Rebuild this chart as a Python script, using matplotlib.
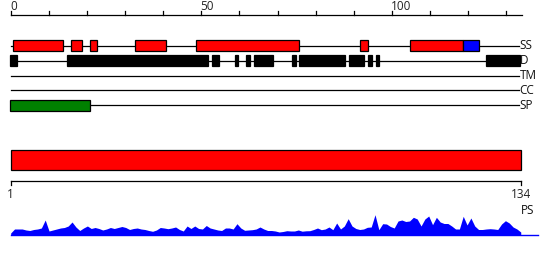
import numpy as np
import matplotlib
matplotlib.use("Agg")
import matplotlib.pyplot as plt

plt.rcParams['font.family'] = ['Open Sans', 'DejaVu Sans']

# sequence length and feature tracks (residue ranges)
seq_len = 134
track_names = ['SS', 'D', 'TM', 'CC', 'SP']
ss_helix = [(1, 14), (16, 19), (21, 23), (33, 41), (49, 76), (92, 94), (105, 119)]
ss_strand = [(119, 123)]
disorder = [(0, 2), (15, 52), (53, 55), (59, 60), (62, 63), (64, 69), (74, 75),
            (76, 88), (89, 93), (94, 95), (96, 97), (125, 134)]
transmem = []
coiled = []
signal = [(0, 21)]
ruler_ticks = list(range(0, 131, 10))
ruler_labels = [0, 50, 100]

# per-residue profile (PS)
ps = [2, 6, 6, 6, 5, 4.5, 5.5, 6, 7, 15,
      4, 5, 6, 7, 7.5, 9, 13, 8, 4.5, 7,
      9, 6.5, 7.5, 6.5, 5, 6, 7.5, 6.5, 7.5, 8.5,
      7.5, 5.5, 6.5, 7, 6, 5.5, 4.5, 3.7, 5, 7.5,
      7, 6.3, 7, 8, 5.5, 4, 9, 6.5, 9, 6.5,
      6, 9.5, 7, 6, 5, 4.5, 7, 7, 6, 11.3,
      7, 4.7, 5, 5.3, 6, 8, 6, 4.5, 4.5, 4,
      3, 3.5, 4.3, 4, 4, 5, 3.8, 4.2, 4.3, 5.5,
      7, 5.3, 6, 8, 5.3, 12, 6, 9, 16.3, 9,
      6.5, 5.5, 6, 7.7, 8, 20.3, 5.3, 11.3, 11, 8.5,
      7, 14, 15, 13.5, 14, 17.7, 16, 9, 16, 19,
      10.3, 17.7, 13, 11.5, 11.5, 9, 6, 6, 18.7, 10,
      17, 9, 5.5, 5.5, 6, 6.3, 6, 5.5, 11, 14.3,
      12, 8, 6, 3]
residues = np.arange(1, seq_len + 1)

W, H = 550, 260
fig = plt.figure(figsize=(W / 100, H / 100), dpi=100)

# top panel: ruler + tracks (x: 0 at px 10.7, 3.813 px per residue)
top = fig.add_axes([0, 0, 1, 1])
top.set_xlim(-10.7 / 3.813, (W - 10.7) / 3.813)
row_gap = 14.9
top.set_ylim((H - 45.7) / row_gap, -45.7 / row_gap)
top.axis('off')

shift = -0.3
lw = 0.9
fs = 8.5
ruler_y = -2.08
top.plot([0, seq_len], [ruler_y, ruler_y], color='black', lw=lw)
for t in ruler_ticks:
    top.plot([t, t], [ruler_y, ruler_y - 0.27], color='black', lw=lw)
for t in ruler_labels:
    top.text(t - 0.2, -2.40, str(t), ha='left', va='baseline', fontsize=fs, color='#222222')

tracks = [[(ss_helix, 'red'), (ss_strand, 'blue')],
          [(disorder, 'black')],
          [(transmem, 'black')],
          [(coiled, 'black')],
          [(signal, 'green')]]
for k, name in enumerate(track_names):
    top.plot([0, 133.2], [k, k], color='black', lw=lw, zorder=1)
    for segs, col in tracks[k]:
        for s, e in segs:
            top.barh(k, e - s, left=s + shift, height=0.7, color=col,
                     edgecolor='black', linewidth=lw, zorder=2)
    top.text(133.5, k, name, ha='left', va='center', fontsize=fs, color='#111111')

# bottom panel: full-length bar + ruler (x: 1 at px 10.7, 134 at px 520.7)
bot = fig.add_axes([0, 0, 1, 1])
bot.set_xlim(1 - 10.7 / 3.835, 1 + (W - 10.7) / 3.835)
bot.set_ylim(H, 0)
bot.axis('off')
bot.barh(160.3, seq_len - 1, left=1, height=20, color='red', edgecolor='black', linewidth=lw)
bot.plot([1, seq_len], [180.7, 180.7], color='black', lw=lw)
for t in [1, seq_len]:
    bot.plot([t, t], [180.7, 185], color='black', lw=lw)
    bot.text(t, 188.5, str(t), ha='center', va='top', fontsize=fs, color='#222222')
bot.text(seq_len + 0.1, 211, 'PS', ha='left', va='center', fontsize=fs, color='#111111')

# profile
prof = fig.add_axes([0, 0, 1, 1])
prof.set_xlim(bot.get_xlim())
prof.set_ylim(-25, 235)
prof.axis('off')
prof.fill_between(residues, 0, ps, color='blue', linewidth=0)
prof.plot([1, 138.5], [0, 0], color='blue', lw=1)

fig.savefig('out.png', dpi=100)
